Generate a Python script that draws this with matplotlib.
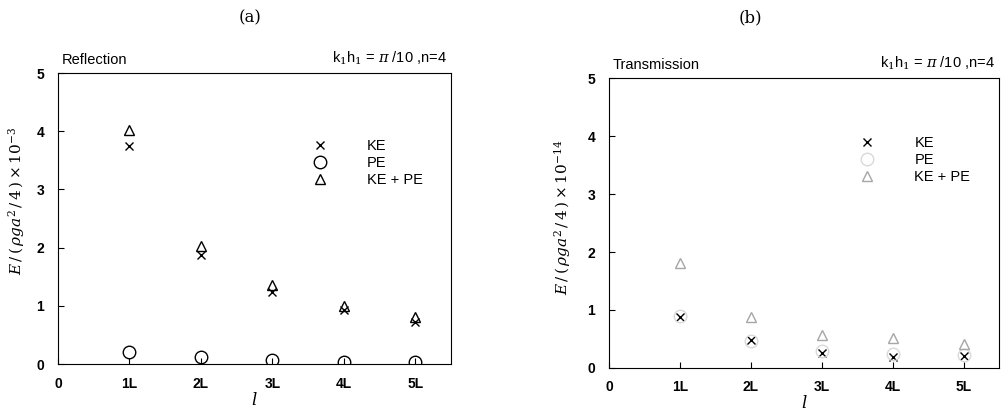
import numpy as np
import matplotlib
matplotlib.use("Agg")
import matplotlib.pyplot as plt

# positions 1L..5L
levels = [1, 2, 3, 4, 5]
tick_labels = ["0", "1L", "2L", "3L", "4L", "5L"]

# (a) reflection, x 10^-3
refl_ke = [3.75, 1.87, 1.24, 0.92, 0.73]
refl_pe = [0.21, 0.12, 0.07, 0.04, 0.04]
refl_tot = [4.02, 2.02, 1.35, 1.00, 0.81]

# (b) transmission, x 10^-14
tran_ke = [0.88, 0.48, 0.26, 0.19, 0.20]
tran_pe = [0.90, 0.47, 0.30, 0.24, 0.22]
tran_tot = [1.81, 0.88, 0.57, 0.52, 0.41]

plt.rcParams["font.family"] = ["Liberation Sans", "DejaVu Sans"]
plt.rcParams["mathtext.fontset"] = "dejavuserif"

fig = plt.figure(figsize=(10.01, 4.13), dpi=100)
ax_a = fig.add_axes([0.058, 0.1186, 0.3925, 0.7046])
ax_b = fig.add_axes([0.6084, 0.109, 0.3896, 0.702])


def draw(ax, ke, pe, tot, faint, exp, name, leg_xy, textpad, ylab_xy):
    pe_col = "0.85" if faint else "black"
    tot_col = "0.65" if faint else "black"
    ax.plot(levels, ke, "x", color="black", ms=6, mew=1.0, label="KE", ls="none")
    ax.plot(levels, pe, "o", mfc="none", mec=pe_col, ms=9, mew=1.0, label="PE", ls="none")
    ax.plot(levels, tot, "^", mfc="none", mec=tot_col, ms=7, mew=1.0, label="KE + PE", ls="none")
    ax.set_xlim(0, 5.5)
    ax.set_ylim(0, 5)
    ax.set_xticks(range(6))
    ax.set_xticklabels(tick_labels)
    ax.set_yticks(range(6))
    ax.tick_params(direction="in", length=4, labelsize=10)
    ax.tick_params(axis="x", pad=9)
    ax.tick_params(axis="y", pad=10)
    for t in ax.get_xticklabels() + ax.get_yticklabels():
        t.set_fontweight("bold")
    ax.set_xlabel("$l$", fontsize=12, labelpad=0)
    ax.set_ylabel(r"$E\,/\,(\,\rho g a^2\,/\,4\,)\times 10^{-%s}$" % exp, fontsize=11)
    ax.yaxis.set_label_coords(*ylab_xy)
    ax.text(0.01, 1.02, name, transform=ax.transAxes, fontsize=10.5, ha="left", va="bottom")
    ax.text(0.99, 1.02, r"k$_1$h$_1$ = $\pi$ /10 ,n=4", transform=ax.transAxes,
            fontsize=10.5, ha="right", va="bottom")
    ax.legend(loc="upper left", bbox_to_anchor=leg_xy, frameon=False,
              fontsize=10.5, handletextpad=2.5, labelspacing=0.2, handlelength=1.5)


draw(ax_a, refl_ke, refl_pe, refl_tot, False, "3", "Reflection",
     (0.605, 0.8175), 2.5, (-0.08, 0.56))
draw(ax_b, tran_ke, tran_pe, tran_tot, True, "14", "Transmission",
     (0.60, 0.845), 2.3, (-0.092, 0.52))

fig.text(0.25, 0.956, "(a)", fontsize=12, family="DejaVu Serif", ha="center", va="center")
fig.text(0.75, 0.956, "(b)", fontsize=12, family="DejaVu Serif", ha="center", va="center")

fig.savefig("out.png", dpi=100)
